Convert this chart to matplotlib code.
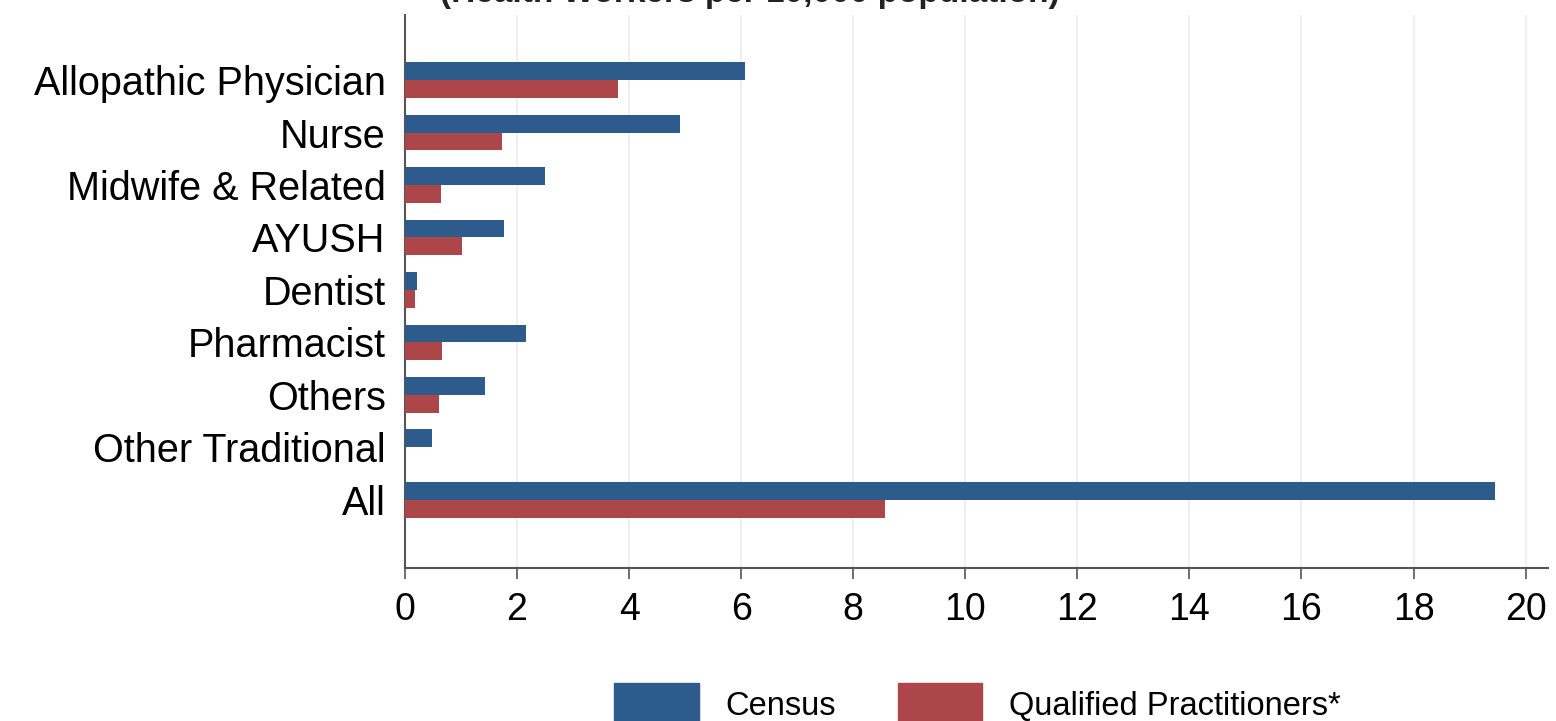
import matplotlib
matplotlib.use("Agg")
import matplotlib.pyplot as plt
import numpy as np
from matplotlib.patches import Patch

categories = ["Allopathic Physician", "Nurse", "Midwife & Related", "AYUSH", "Dentist",
              "Pharmacist", "Others", "Other Traditional", "All"]
census = [6.07, 4.91, 2.50, 1.77, 0.21, 2.16, 1.43, 0.48, 19.46]
qualified = [3.80, 1.73, 0.64, 1.02, 0.18, 0.66, 0.61, 0.0, 8.57]
xticks = [0, 2, 4, 6, 8, 10, 12, 14, 16, 18, 20]

BLUE = "#2c5b8c"
RED = "#ad4649"

plt.rcParams['font.family'] = ['Liberation Sans', 'DejaVu Sans']

W, H = 1556, 721
fig = plt.figure(figsize=(W / 100, H / 100), dpi=100)
ax = fig.add_axes([405 / W, 1 - 568 / H, (1548 - 405) / W, (568 - 15) / H])

y = np.arange(len(categories))
bh = 0.34
ax.barh(y - bh / 2, census, height=bh, color=BLUE, label="Census", zorder=3)
ax.barh(y + bh / 2, qualified, height=bh, color=RED, label="Qualified Practitioners*", zorder=3)

ax.set_ylim(9.3, -1.24)
ax.set_xlim(0, 20.4)
ax.set_yticks(y)
ax.set_yticklabels(categories, fontsize=28.5)
ax.set_xticks(xticks)
ax.set_xticklabels([str(t) for t in xticks], fontsize=27)
ax.tick_params(axis='y', length=0, pad=14)
ax.tick_params(axis='x', length=8, width=1.2, color="#555555", pad=9)

ax.grid(axis='x', color="#eeeeee", linewidth=1.2, zorder=0)
for s in ["top", "right"]:
    ax.spines[s].set_visible(False)
ax.spines["left"].set_color("#555555")
ax.spines["bottom"].set_color("#555555")
ax.spines["left"].set_linewidth(1.5)
ax.spines["bottom"].set_linewidth(1.5)

# partially visible title at top (cut off in reference)
fig.text(750 / W, 1 - 2 / H, "(Health Workers per 10,000 population)", fontsize=24,
         fontweight='bold', ha='center', va='baseline', color="#222222")

handles = [Patch(color=BLUE, label="Census"), Patch(color=RED, label="Qualified Practitioners*")]
leg = fig.legend(handles=handles, loc='center left', bbox_to_anchor=(588 / W, 1 - 704 / H),
                 ncol=2, frameon=False, fontsize=23.5, handlelength=2.6, handleheight=1.6,
                 handletextpad=0.8, columnspacing=1.9, borderpad=0.3)

fig.savefig("out.png", dpi=100, facecolor="white")
